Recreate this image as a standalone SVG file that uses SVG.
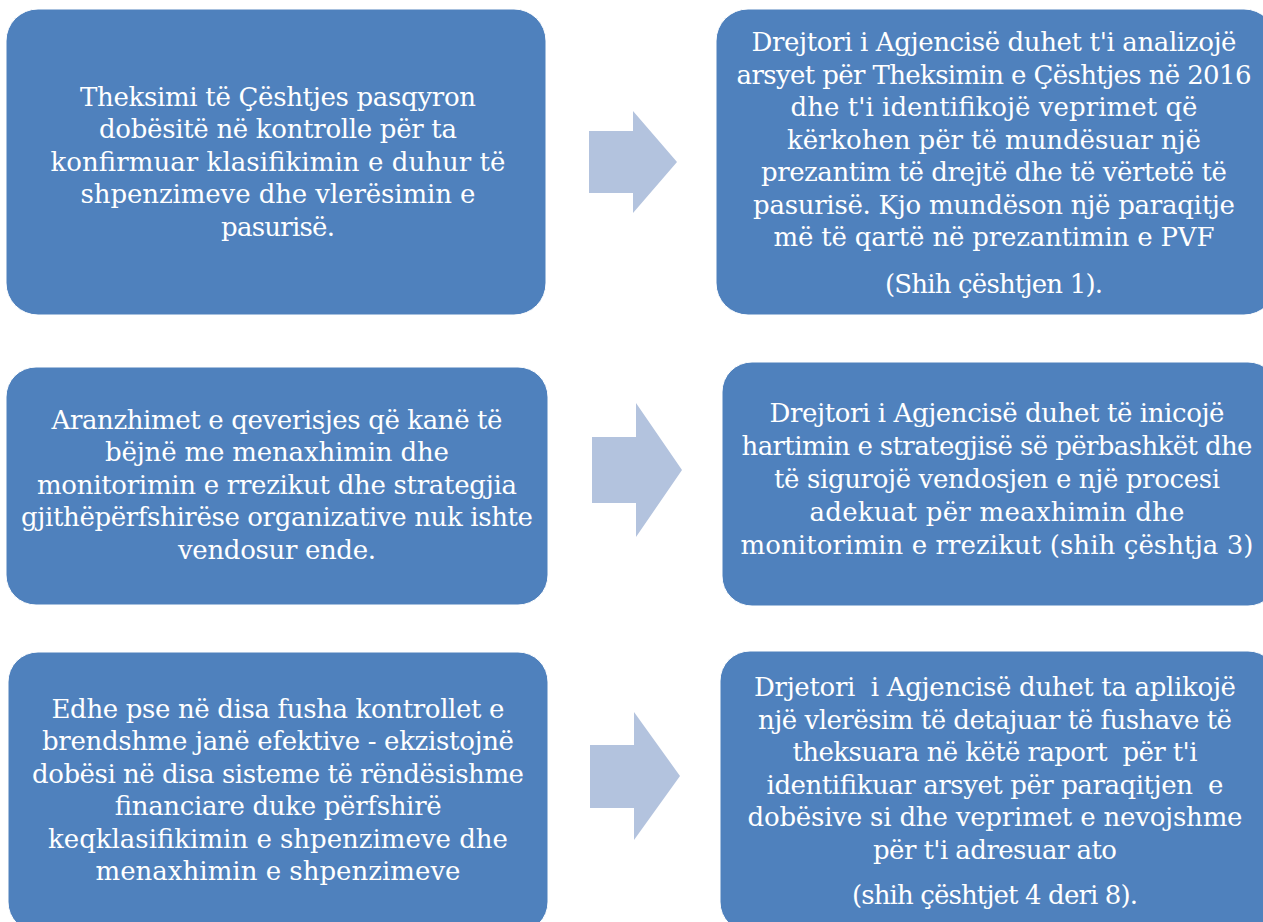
<svg xmlns="http://www.w3.org/2000/svg" width="1263" height="922" viewBox="0 0 1263 922">
<style>
.box{fill:#4F81BD;stroke:#ffffff;stroke-width:1}
.arr{fill:#B3C3DE}
.t{font-family:'DejaVu Serif',serif;font-size:26px;fill:#ffffff;text-anchor:middle}
</style>
<rect width="1263" height="922" fill="#ffffff"/>
<g id="connectors">
<polygon class="arr" points="589,131 633,131 633,111 677,162 633,213 633,193 589,193"/>
<polygon class="arr" points="592,437 636,437 636,403 682,470 636,537 636,503 592,503"/>
<polygon class="arr" points="590,745 634,745 634,712 680,776 634,840 634,808 590,808"/>
</g>
<g id="node1" class="t" font-family="DejaVu Serif">
<rect class="box" x="6" y="9" width="540" height="306" rx="32"/>
<text x="278" y="106" textLength="396">Theksimi të Çështjes pasqyron</text>
<text x="278" y="138" textLength="358">dobësitë në kontrolle për ta</text>
<text x="278" y="171" textLength="455">konfirmuar klasifikimin e duhur të</text>
<text x="278" y="203" textLength="395">shpenzimeve dhe vlerësimin e</text>
<text x="278" y="236" textLength="114">pasurisë.</text>
</g>
<g id="node2" class="t" font-family="DejaVu Serif">
<rect class="box" x="716" y="9" width="560" height="306" rx="32"/>
<text x="994" y="51" textLength="485">Drejtori i Agjencisë duhet t'i analizojë</text>
<text x="994" y="84" textLength="515">arsyet për Theksimin e Çështjes në 2016</text>
<text x="994" y="116" textLength="407">dhe t'i identifikojë veprimet që</text>
<text x="994" y="149" textLength="414">kërkohen për të mundësuar një</text>
<text x="994" y="181" textLength="466">prezantim të drejtë dhe të vërtetë të</text>
<text x="994" y="214" textLength="482">pasurisë. Kjo mundëson një paraqitje</text>
<text x="994" y="246" textLength="441">më të qartë në prezantimin e PVF</text>
<text x="994" y="293" textLength="218">(Shih çështjen 1).</text>
</g>
<g id="node3" class="t" font-family="DejaVu Serif">
<rect class="box" x="6" y="367" width="542" height="238" rx="30"/>
<text x="277" y="429" textLength="451">Aranzhimet e qeverisjes që kanë të</text>
<text x="277" y="461" textLength="344">bëjnë me menaxhimin dhe</text>
<text x="277" y="494" textLength="480">monitorimin e rrezikut dhe strategjia</text>
<text x="277" y="526" textLength="512">gjithëpërfshirëse organizative nuk ishte</text>
<text x="277" y="559" textLength="198">vendosur ende.</text>
</g>
<g id="node4" class="t" font-family="DejaVu Serif">
<rect class="box" x="722" y="362" width="556" height="244" rx="30"/>
<text x="997" y="422" textLength="455">Drejtori i Agjencisë duhet të inicojë</text>
<text x="997" y="455" textLength="511">hartimin e strategjisë së përbashkët dhe</text>
<text x="997" y="488" textLength="446">të sigurojë vendosjen e një procesi</text>
<text x="997" y="521" textLength="375">adekuat për meaxhimin dhe</text>
<text x="997" y="554" textLength="513">monitorimin e rrezikut (shih çështja 3)</text>
</g>
<g id="node5" class="t" font-family="DejaVu Serif">
<rect class="box" x="8" y="652" width="540" height="280" rx="30"/>
<text x="278" y="718" textLength="453">Edhe pse në disa fusha kontrollet e</text>
<text x="278" y="750" textLength="472">brendshme janë efektive - ekzistojnë</text>
<text x="278" y="783" textLength="492">dobësi në disa sisteme të rëndësishme</text>
<text x="278" y="815" textLength="327">financiare duke përfshirë</text>
<text x="278" y="848" textLength="460">keqklasifikimin e shpenzimeve dhe</text>
<text x="278" y="880" textLength="365">menaxhimin e shpenzimeve</text>
</g>
<g id="node6" class="t" font-family="DejaVu Serif">
<rect class="box" x="720" y="651" width="558" height="281" rx="30"/>
<text x="995" y="696" textLength="482" xml:space="preserve">Drjetori  i Agjencisë duhet ta aplikojë</text>
<text x="995" y="729" textLength="474">një vlerësim të detajuar të fushave të</text>
<text x="995" y="761" textLength="405" xml:space="preserve">theksuara në këtë raport  për t'i</text>
<text x="995" y="794" textLength="457" xml:space="preserve">identifikuar arsyet për paraqitjen  e</text>
<text x="995" y="826" textLength="495">dobësive si dhe veprimet e nevojshme</text>
<text x="995" y="859" textLength="244">për t'i adresuar ato</text>
<text x="995" y="904" textLength="286">(shih çështjet 4 deri 8).</text>
</g>
</svg>
